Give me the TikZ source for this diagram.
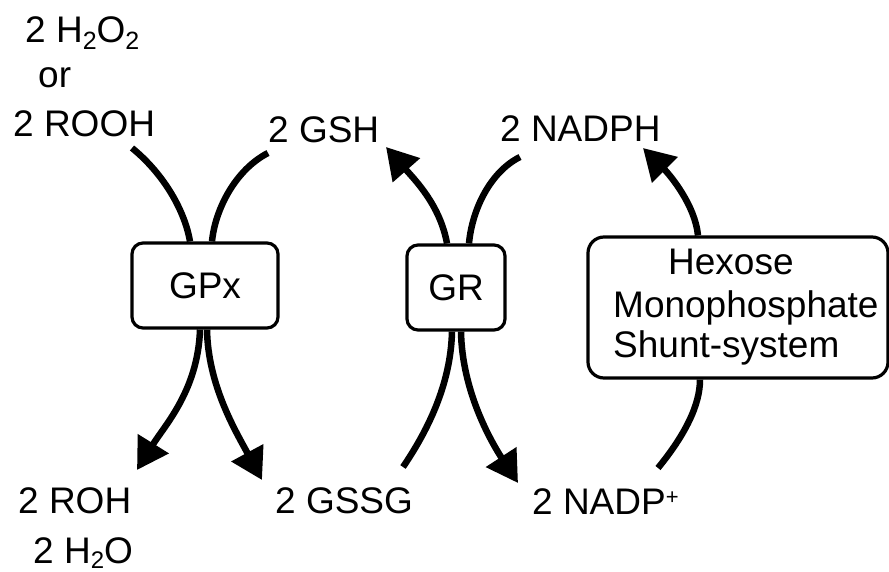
\documentclass[tikz,border=0pt]{standalone}
\usepackage{fontspec}
\setmainfont{Liberation Sans}
\usetikzlibrary{arrows.meta,calc}
\newcommand\chsub[1]{\raisebox{-7pt}{\fontsize{25}{25}\selectfont #1}}
\newcommand\chsubb[1]{\raisebox{-5pt}{\fontsize{24}{24}\selectfont #1}}
\begin{document}
\begin{tikzpicture}[x=1pt,y=-1pt,
  lbl/.style={inner sep=0pt, anchor=base west, font=\fontsize{37}{41}\selectfont},
  enz/.style={draw, line width=3.2pt, rounded corners=11pt, inner sep=0pt, font=\fontsize{37}{41}\selectfont},
  conn/.style={line width=6.5pt},
  arr/.style={conn, -{Triangle[length=31pt,width=35pt]}}]
\useasboundingbox (0,0) rectangle (889,572);

% labels
\node[lbl] (h2o2) at (25,43) {2 H\chsub{2}O\chsub{2}};
\node[lbl] (or) at (38,88) {or};
\node[lbl] (rooh) at (13,137) {2 ROOH};
\node[lbl] (gsh) at (268,143) {2 GSH};
\node[lbl] (nadph) at (500,142) {2 NADPH};
\node[lbl] (roh) at (18,513) {2 ROH};
\node[lbl] (h2o) at (33,563) {2 H\chsubb{2}O};
\node[lbl] (gssg) at (275,513) {2 GSSG};
\node[lbl] (nadp) at (532,514) {2 NADP\raisebox{10pt}{\fontsize{22}{22}\selectfont +}};

% boxes
\node[enz, minimum width=146pt, minimum height=85pt] (gpx) at (205,285.5) {GPx};
\node[enz, minimum width=98pt, minimum height=85pt] (gr) at (456,287.5) {GR};
\node[enz, rounded corners=16pt, minimum width=300pt, minimum height=141pt] (hms) at (738,307.5) {};
\node[lbl] (hex1) at (668,275) {Hexose};
\node[lbl] (hex2) at (613,317) {Monophosphate};
\node[lbl] (hex3) at (613,357) {Shunt-system};

% connector end points
\coordinate (roohE) at (132,148);
\coordinate (gshE) at (268,153);
\coordinate (rohT) at (137,470);
\coordinate (gssgT) at (262,480);
\coordinate (gshT) at (386,147);
\coordinate (nadphE) at (520,157);
\coordinate (gssgE) at (403,467);
\coordinate (nadpT) at (518,483);
\coordinate (nadphT) at (643,148);
\coordinate (nadpE) at (658,468);

\coordinate (gpxA) at ([xshift=-15pt]gpx.north);
\coordinate (gpxB) at ([xshift=7pt]gpx.north);
\coordinate (gpxC) at ([xshift=-5pt]gpx.south);
\coordinate (gpxD) at ([xshift=2pt]gpx.south);
\coordinate (grA) at ([xshift=-9pt]gr.north);
\coordinate (grB) at ([xshift=13pt]gr.north);
\coordinate (grC) at ([xshift=-4pt]gr.south);
\coordinate (grD) at ([xshift=5pt]gr.south);
\coordinate (hmsA) at ([xshift=-40pt]hms.north);
\coordinate (hmsB) at ([xshift=-38pt]hms.south);

% GPx
\draw[conn] (roohE) .. controls (165,175) and (185,212) .. (gpxA);
\draw[conn] (gshE) .. controls (235,170) and (215,210) .. (gpxB);
\draw[arr] (gpxC) .. controls (198,390) and (165,425) .. (rohT);
\draw[arr] (gpxD) .. controls (208,385) and (235,430) .. (gssgT);
% GR
\draw[arr] (grA) .. controls (440,205) and (415,180) .. (gshT);
\draw[conn] (nadphE) .. controls (490,172) and (472,210) .. (grB);
\draw[conn] (gssgE) .. controls (435,420) and (451,375) .. (grC);
\draw[arr] (grD) .. controls (462,390) and (490,440) .. (nadpT);
% HMS
\draw[arr] (hmsA) .. controls (695,205) and (670,175) .. (nadphT);
\draw[conn] (nadpE) .. controls (685,435) and (700,405) .. (hmsB);
\end{tikzpicture}
\end{document}
